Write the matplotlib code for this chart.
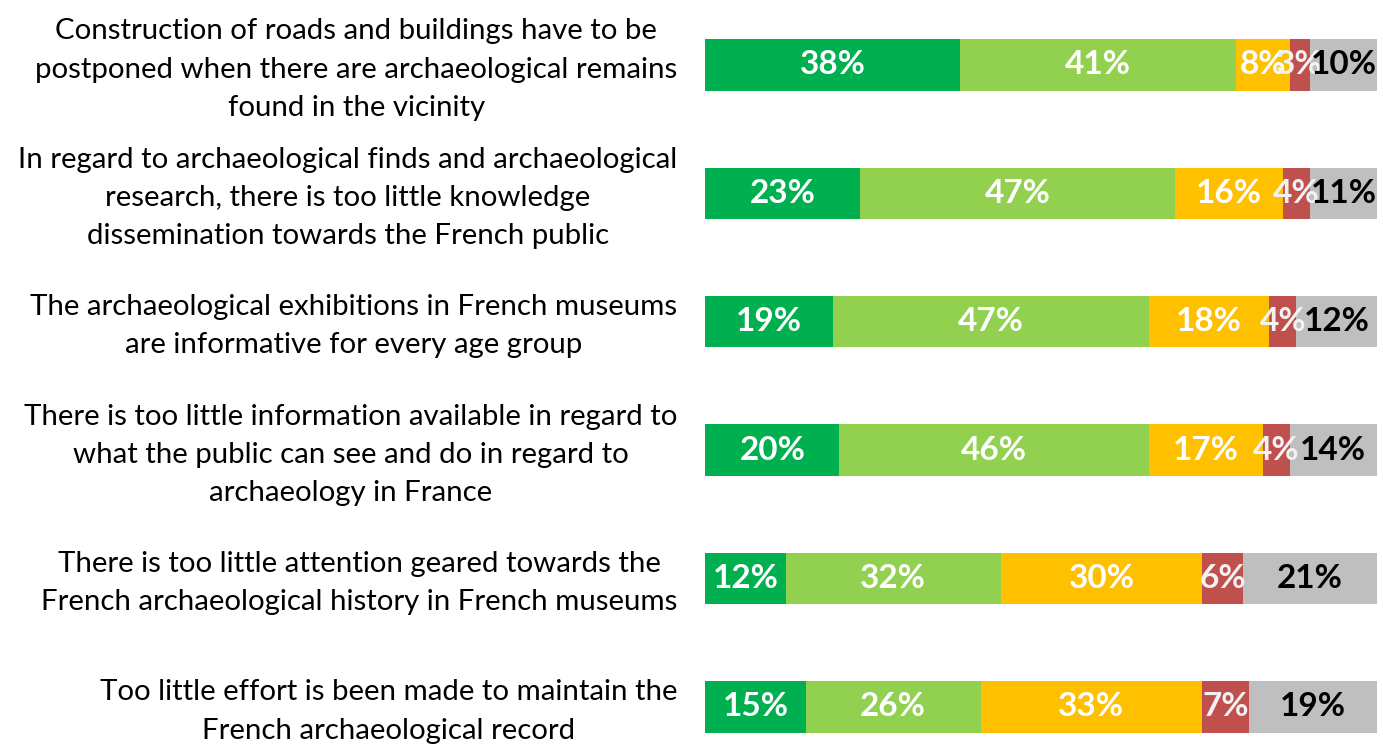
import matplotlib
matplotlib.use("Agg")
import matplotlib.pyplot as plt
import matplotlib.transforms as mtransforms
import numpy as np

plt.rcParams['font.family'] = ['Lato', 'DejaVu Sans']

statements = [
    "Construction of roads and buildings have to be\npostponed when there are archaeological remains\nfound in the vicinity",
    "In regard to archaeological finds and archaeological\nresearch, there is too little knowledge\ndissemination towards the French public",
    "The archaeological exhibitions in French museums\nare informative for every age group",
    "There is too little information available in regard to\nwhat the public can see and do in regard to\narchaeology in France",
    "There is too little attention geared towards the\nFrench archaeological history in French museums",
    "Too little effort is been made to maintain the\nFrench archaeological record",
]

strongly_agree = [38, 23, 19, 20, 12, 15]
agree = [41, 47, 47, 46, 32, 26]
disagree = [8, 16, 18, 17, 30, 33]
strongly_disagree = [3, 4, 4, 4, 6, 7]
no_opinion = [10, 11, 12, 14, 21, 19]

series = [strongly_agree, agree, disagree, strongly_disagree, no_opinion]
colors = ['#00B050', '#92D050', '#FFC000', '#C0504D', '#BFBFBF']
text_colors = ['white', 'white', 'white', '#F2F2F2', 'black']

fig = plt.figure(figsize=(13.83, 7.5), dpi=100)
ax = fig.add_axes([705 / 1383, 0, 672 / 1383, 730 / 750])

y = np.arange(len(statements))
left = np.zeros(len(statements))
for vals, col, tcol in zip(series, colors, text_colors):
    bars = ax.barh(y, vals, left=left, height=0.4, color=col)
    ax.bar_label(bars, labels=[f"{v}%" for v in vals], label_type='center',
                 color=tcol, fontsize=24, fontweight='bold')
    left += np.array(vals)

ax.set_xlim(0, 100)
ax.set_ylim(5.335, -0.35)
ax.set_yticks(y)
ax.set_yticklabels(statements, fontsize=21.2, linespacing=1.58, multialignment='center')
ax.tick_params(axis='y', length=0, pad=20)
ax.set_xticks([])
for s in ax.spines.values():
    s.set_visible(False)

# nudge the statement labels up a little
shift = mtransforms.ScaledTranslation(0, 4 / 100, fig.dpi_scale_trans)
for lbl in ax.get_yticklabels():
    lbl.set_transform(lbl.get_transform() + shift)

fig.savefig("out.png", dpi=100)
